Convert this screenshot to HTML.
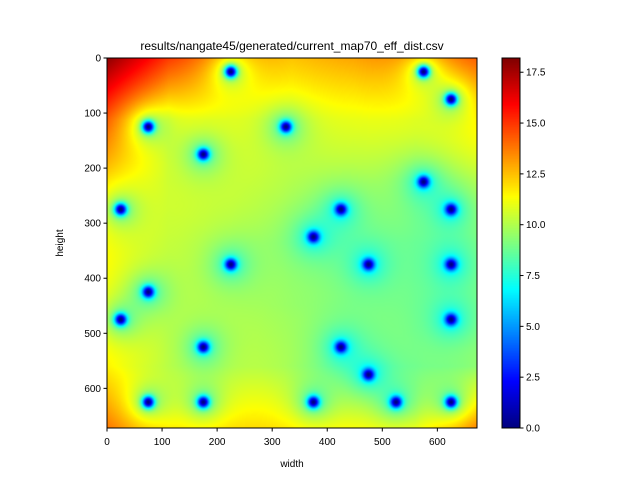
<!DOCTYPE html>
<html><head><meta charset="utf-8"><style>
body{margin:0;background:#fff;width:640px;height:480px;overflow:hidden;font-family:"Liberation Sans",sans-serif}
#wrap{position:relative;width:640px;height:480px}
canvas{position:absolute}
svg{position:absolute;left:0;top:0}
</style></head><body>
<div id="wrap">
<canvas id="heat" width="370" height="370" style="left:107px;top:58px"></canvas>
<canvas id="cbar" width="18" height="370" style="left:502px;top:58px"></canvas>
<svg id="ax" width="640" height="480"></svg>
</div>
<script>
const points = [[225,25],[575,25],[625,75],[75,125],[325,125],[175,175],[575,225],[25,275],[425,275],[625,275],[375,325],[225,375],[475,375],[625,375],[75,425],[25,475],[625,475],[175,525],[425,525],[475,575],[75,625],[175,625],[375,625],[525,625],[625,625]];
const baseGrid = [
 [18,15,13.5,12.5,13,14,14.5],
 [14.5,11.5,11.2,11,11,11.2,12],
 [12.3,10.8,10.6,10.2,10,9.8,10.3],
 [11.6,10.5,10.1,9.6,9.3,9.1,9.4],
 [11.6,10.5,10.1,9.6,9.3,9.1,9.3],
 [11.8,10.7,10.4,10,9.5,9.3,9.6],
 [14,12.3,12.2,12,11.6,11.6,14]];
const xTicks = [0,100,200,300,400,500,600];
const yTicks = [0,100,200,300,400,500,600];
const cTicks = [0,2.5,5,7.5,10,12.5,15,17.5];
const extent = 672, vmin = 0, vmax = 18.2;
const PX=107, PY=58, PW=370, PH=370;
const sx = v => PX + v/extent*PW;
const sy = v => PY + v/extent*PH;
const cy = v => PY + PH - (v-vmin)/(vmax-vmin)*PH;
function jet(t){t=Math.max(0,Math.min(1,t));const c=x=>Math.max(0,Math.min(1,x));
 return [c(1.5-Math.abs(4*t-3))*255,c(1.5-Math.abs(4*t-2))*255,c(1.5-Math.abs(4*t-1))*255];}
function base(x,y){const n=baseGrid.length-1,st=extent/n;
 let gx=Math.min(n-1e-6,x/st),gy=Math.min(n-1e-6,y/st);const i=Math.floor(gx),j=Math.floor(gy),fx=gx-i,fy=gy-j;
 const a=baseGrid[j][i],b=baseGrid[j][i+1],c=baseGrid[j+1][i],d=baseGrid[j+1][i+1];
 return a*(1-fx)*(1-fy)+b*fx*(1-fy)+c*(1-fx)*fy+d*fx*fy;}
const hc=document.getElementById('heat').getContext('2d');
const img=hc.createImageData(PW,PH);
for(let py=0;py<PH;py++)for(let px=0;px<PW;px++){
 const x=(px+0.5)/PW*extent,y=(py+0.5)/PH*extent;let v=base(x,y);
 for(const p of points){const d=Math.sqrt((x-p[0])*(x-p[0])+(y-p[1])*(y-p[1]));if(d<150)v*=(1-Math.exp(-((d/10)*(d/10))))*(1-0.4*Math.exp(-d/25));}
 const c=jet((v-vmin)/(vmax-vmin));const k=(py*PW+px)*4;img.data[k]=c[0];img.data[k+1]=c[1];img.data[k+2]=c[2];img.data[k+3]=255;}
hc.putImageData(img,0,0);
const cc=document.getElementById('cbar').getContext('2d');
for(let i=0;i<PH;i++){const c=jet(1-(i+0.5)/PH);cc.fillStyle=`rgb(${c[0]|0},${c[1]|0},${c[2]|0})`;cc.fillRect(0,i,18,1);}
const svg=document.getElementById('ax');const NS='http://www.w3.org/2000/svg';
function mk(t,a,txt){const e=document.createElementNS(NS,t);for(const k in a)e.setAttribute(k,a[k]);if(txt!==undefined)e.textContent=txt;svg.appendChild(e);return e;}
let e;
e=mk('rect',{x:PX,y:PY,width:PW,height:PH,fill:'none',stroke:'#000','stroke-width':1});

e=mk('rect',{x:502,y:PY,width:18,height:PH,fill:'none',stroke:'#000','stroke-width':1});

for(const t of xTicks){const x=sx(t);mk('line',{x1:x,x2:x,y1:PY+PH,y2:PY+PH+3.5,stroke:'#000'});
 e=mk('text',{x:x,y:PY+PH+17,'text-anchor':'middle','font-size':10},t);
 }
for(const t of yTicks){const y=sy(t);mk('line',{x1:PX-3.5,x2:PX,y1:y,y2:y,stroke:'#000'});
 e=mk('text',{x:PX-6,y:y+3.5,'text-anchor':'end','font-size':10},t);
 }
for(const t of cTicks){const y=cy(t);mk('line',{x1:520,x2:523.5,y1:y,y2:y,stroke:'#000'});
 e=mk('text',{x:526,y:y+3.5,'font-size':10},t.toFixed(1));
 }
e=mk('text',{x:292,y:467,'text-anchor':'middle','font-size':10},'width');

e=mk('text',{x:63,y:243,'text-anchor':'middle','font-size':10,transform:'rotate(-90 63 243)'},'height');

e=mk('text',{x:292,y:50,'text-anchor':'middle','font-size':12},'results/nangate45/generated/current_map70_eff_dist.csv');

</script>
</body></html>
